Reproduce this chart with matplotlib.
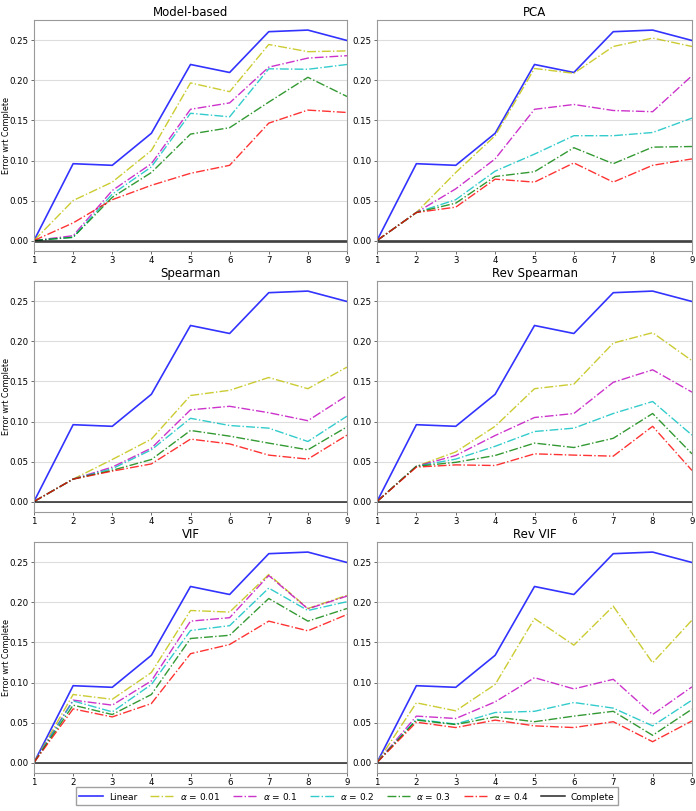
import matplotlib
matplotlib.use("Agg")
import matplotlib.pyplot as plt
import numpy as np

x = [1, 2, 3, 4, 5, 6, 7, 8, 9]
titles = ["Model-based", "PCA", "Spearman", "Rev Spearman", "VIF", "Rev VIF"]
series_labels = ["Linear", r"$\alpha$ = 0.01", r"$\alpha$ = 0.1", r"$\alpha$ = 0.2",
                 r"$\alpha$ = 0.3", r"$\alpha$ = 0.4", "Complete"]

linear = [0, 0.096, 0.094, 0.134, 0.220, 0.210, 0.261, 0.263, 0.250]
complete = [0, 0, 0, 0, 0, 0, 0, 0, 0]

model_based = {
    "a001": [0, 0.050, 0.073, 0.1125, 0.197, 0.186, 0.245, 0.236, 0.237],
    "a01":  [0, 0.006, 0.0625, 0.096, 0.164, 0.172, 0.2167, 0.228, 0.231],
    "a02":  [0, 0.004, 0.058, 0.092, 0.159, 0.1546, 0.2146, 0.214, 0.220],
    "a03":  [0, 0.004, 0.054, 0.085, 0.133, 0.141, 0.173, 0.204, 0.180],
    "a04":  [0, 0.022, 0.051, 0.069, 0.084, 0.094, 0.1467, 0.163, 0.160],
}
pca = {
    "a001": [0, 0.035, 0.085, 0.131, 0.215, 0.209, 0.2425, 0.253, 0.2425],
    "a01":  [0, 0.035, 0.0646, 0.102, 0.164, 0.170, 0.1625, 0.161, 0.206],
    "a02":  [0, 0.035, 0.051, 0.0867, 0.108, 0.131, 0.131, 0.135, 0.153],
    "a03":  [0, 0.035, 0.0467, 0.080, 0.086, 0.116, 0.096, 0.1167, 0.1175],
    "a04":  [0, 0.035, 0.0417, 0.0767, 0.073, 0.097, 0.073, 0.094, 0.102],
}
spearman = {
    "a001": [0, 0.028, 0.0525, 0.078, 0.1325, 0.139, 0.155, 0.141, 0.168],
    "a01":  [0, 0.028, 0.043, 0.0667, 0.1146, 0.119, 0.111, 0.101, 0.1325],
    "a02":  [0, 0.028, 0.041, 0.0646, 0.104, 0.095, 0.0917, 0.075, 0.1067],
    "a03":  [0, 0.028, 0.039, 0.0525, 0.0888, 0.0817, 0.073, 0.0646, 0.0933],
    "a04":  [0, 0.028, 0.038, 0.047, 0.078, 0.072, 0.058, 0.053, 0.083],
}
rev_spearman = {
    "a001": [0, 0.044, 0.062, 0.094, 0.141, 0.1467, 0.198, 0.211, 0.176],
    "a01":  [0, 0.044, 0.0575, 0.0825, 0.105, 0.110, 0.149, 0.1646, 0.1367],
    "a02":  [0, 0.044, 0.053, 0.069, 0.0875, 0.0917, 0.110, 0.125, 0.083],
    "a03":  [0, 0.044, 0.049, 0.0575, 0.073, 0.0675, 0.079, 0.110, 0.0596],
    "a04":  [0, 0.043, 0.0458, 0.045, 0.0596, 0.058, 0.0567, 0.094, 0.0388],
}
vif = {
    "a001": [0, 0.085, 0.079, 0.1125, 0.190, 0.188, 0.235, 0.1925, 0.209],
    "a01":  [0, 0.078, 0.0717, 0.102, 0.1767, 0.181, 0.2337, 0.192, 0.208],
    "a02":  [0, 0.077, 0.0633, 0.0975, 0.165, 0.171, 0.218, 0.190, 0.201],
    "a03":  [0, 0.0717, 0.060, 0.085, 0.155, 0.159, 0.205, 0.1767, 0.1925],
    "a04":  [0, 0.067, 0.057, 0.0737, 0.136, 0.1475, 0.1767, 0.1646, 0.185],
}
rev_vif = {
    "a001": [0, 0.0746, 0.0646, 0.0975, 0.180, 0.1467, 0.1954, 0.1246, 0.178],
    "a01":  [0, 0.058, 0.055, 0.0758, 0.106, 0.092, 0.104, 0.060, 0.0946],
    "a02":  [0, 0.054, 0.048, 0.0625, 0.064, 0.075, 0.068, 0.0458, 0.078],
    "a03":  [0, 0.053, 0.0475, 0.057, 0.051, 0.058, 0.064, 0.034, 0.0667],
    "a04":  [0, 0.0504, 0.0437, 0.053, 0.0458, 0.0437, 0.051, 0.026, 0.052],
}
panels = [model_based, pca, spearman, rev_spearman, vif, rev_vif]
keys = ["a001", "a01", "a02", "a03", "a04"]
colors = ["y", "m", "c", "g", "r"]

fig = plt.figure(figsize=(6.96, 8.11), dpi=100)
lefts = [34 / 696, 377 / 696]
widths = [313 / 696, 315 / 696]
bottoms = [1 - 251 / 811, 1 - 512 / 811, 1 - 773 / 811]
height = 231 / 811

handles = None
for i, (title, data) in enumerate(zip(titles, panels)):
    r, c = divmod(i, 2)
    ax = fig.add_axes([lefts[c], bottoms[r], widths[c], height])
    hs = []
    h, = ax.plot(x, linear, color="b", lw=1.2, alpha=0.8, label=series_labels[0])
    hs.append(h)
    for k, col, lab in zip(keys, colors, series_labels[1:6]):
        h, = ax.plot(x, data[k], color=col, ls="-.", lw=1.0, alpha=0.8, label=lab)
        hs.append(h)
    if r == 0:
        h, = ax.plot(x, complete, color="k", lw=2.0, alpha=0.7, label=series_labels[6])
    else:
        h, = ax.plot(x, complete, color="k", lw=1.1, alpha=0.85, label=series_labels[6])
    hs.append(h)
    handles = hs
    ax.set_xlim(1, 9)
    ax.set_ylim(-0.0131, 0.2756)
    ax.set_xticks(x)
    ax.set_yticks([0, 0.05, 0.10, 0.15, 0.20, 0.25])
    ax.yaxis.set_major_formatter(matplotlib.ticker.FormatStrFormatter("%.2f"))
    ax.grid(axis="y", color="#dddddd", lw=0.8)
    ax.set_axisbelow(True)
    ax.tick_params(labelsize=6.2, length=2.2, width=0.6, color="#555555", pad=1.5)
    for s in ax.spines.values():
        s.set_color("#999999")
        s.set_linewidth(0.8)
    ax.set_title(title, fontsize=8.5, pad=3)
    if c == 0:
        ax.set_ylabel("Error wrt Complete", fontsize=5.8)
        ax.yaxis.set_label_coords((11 - 34) / 313, 0.5)

fig.legend(handles, series_labels, loc="center", bbox_to_anchor=(347 / 696, 1 - 796 / 811),
           ncol=7, fontsize=6.5, frameon=True, fancybox=False, edgecolor="#888888",
           handlelength=2.6, columnspacing=1.4, handletextpad=0.7, borderpad=0.4)
fig.savefig("out.png", dpi=100)
